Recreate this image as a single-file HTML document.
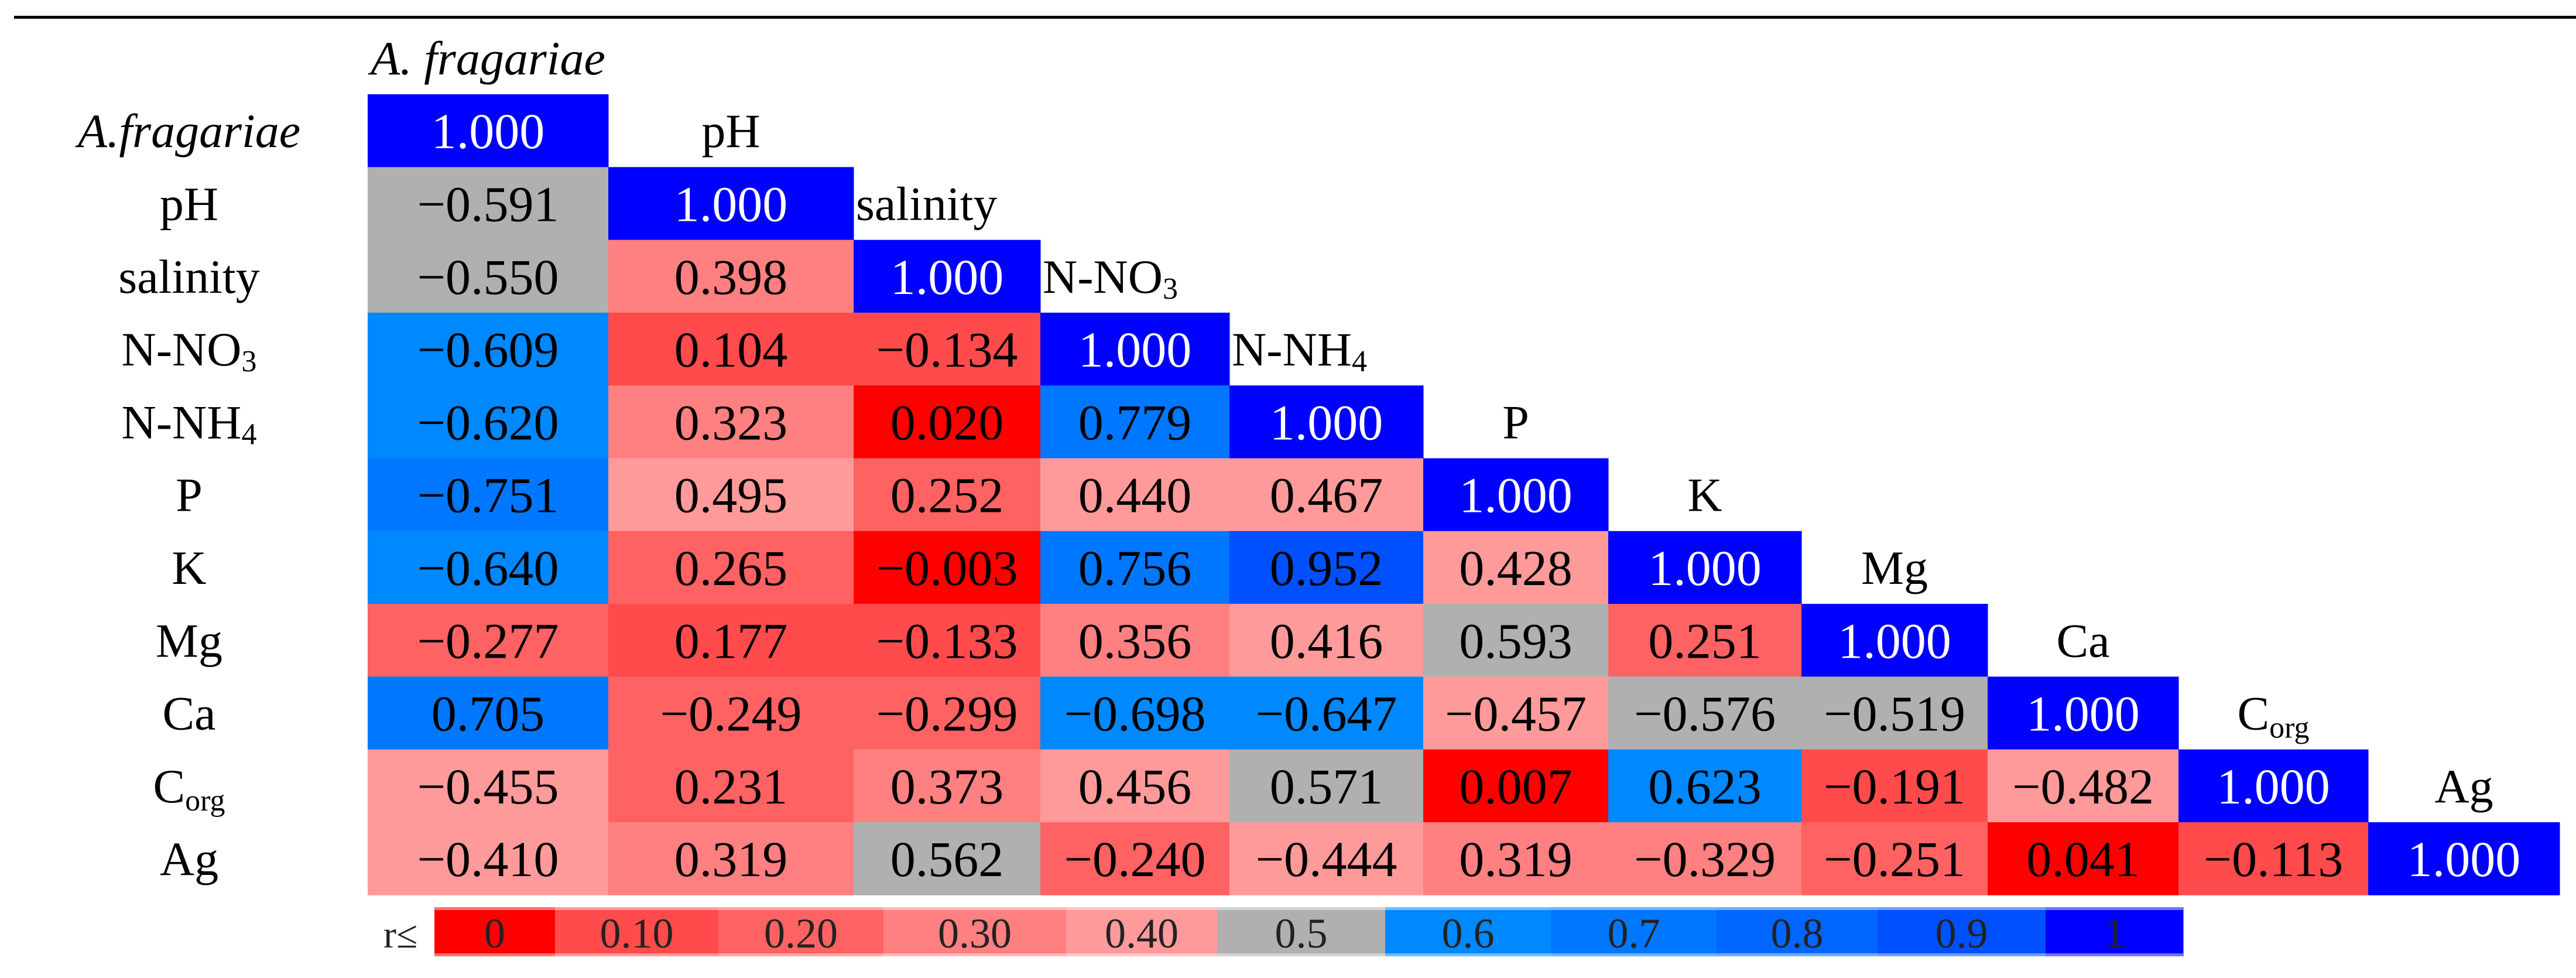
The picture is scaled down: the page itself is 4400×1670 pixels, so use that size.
<!DOCTYPE html>
<html><head><meta charset="utf-8">
<style>
html,body{margin:0;padding:0;background:#fff;}
#wrap{position:relative;width:4400px;height:1670px;overflow:hidden;background:#fff;font-family:"Liberation Serif",serif;}
svg text{font-family:"Liberation Serif",serif;}
</style></head>
<body>
<div id="wrap">
<svg id="chart" width="4400" height="1670" viewBox="0 0 4400 1670"></svg>
</div>
<script>
const labels = ["A.fragariae","pH","salinity","N-NO3","N-NH4","P","K","Mg","Ca","Corg","Ag"];
const row0 = [1.000];
const row1 = [-0.591,1.000];
const row2 = [-0.550,0.398,1.000];
const row3 = [-0.609,0.104,-0.134,1.000];
const row4 = [-0.620,0.323,0.020,0.779,1.000];
const row5 = [-0.751,0.495,0.252,0.440,0.467,1.000];
const row6 = [-0.640,0.265,-0.003,0.756,0.952,0.428,1.000];
const row7 = [-0.277,0.177,-0.133,0.356,0.416,0.593,0.251,1.000];
const row8 = [0.705,-0.249,-0.299,-0.698,-0.647,-0.457,-0.576,-0.519,1.000];
const row9 = [-0.455,0.231,0.373,0.456,0.571,0.007,0.623,-0.191,-0.482,1.000];
const row10 = [-0.410,0.319,0.562,-0.240,-0.444,0.319,-0.329,-0.251,0.041,-0.113,1.000];
const rows = [row0,row1,row2,row3,row4,row5,row6,row7,row8,row9,row10];
const legendLabels = ["0","0.10","0.20","0.30","0.40","0.5","0.6","0.7","0.8","0.9","1"];
const binColors = ["#ff0000","#ff4b4b","#ff6262","#ff8080","#ff9a9a","#b0b0b0","#0088ff","#0077ff","#0066ff","#0050ff","#0000ff"];

const NS="http://www.w3.org/2000/svg";
const svg=document.getElementById('chart');
function mk(tag,attrs,parent){const e=document.createElementNS(NS,tag);for(const k in attrs)e.setAttribute(k,attrs[k]);(parent||svg).appendChild(e);return e;}

// layout
const colEdges=[628,1039,1458,1777,2100,2431,2747,3077,3395,3721,4045,4372];
const rowTop=161, rowH=124.3;
const xL=i=>colEdges[i], xR=i=>colEdges[i+1];
const yT=r=>rowTop+r*rowH;
function colorFor(v){const a=Math.abs(v);if(a>=0.9995)return binColors[10];return binColors[Math.min(9,Math.floor(a*10))];}
function fmt(v){const s=Math.abs(v).toFixed(3);return (v<0?"\u2212":"")+s;}

// top rule
const rule=mk('rect',{x:24,y:27,width:4376,height:5,fill:'#000'});



function labelText(parent,x,y,name,anchor,italic){
  const t=mk('text',{x:x,y:y,'font-size':82,'text-anchor':anchor,fill:'#000'},parent);
  if(italic)t.setAttribute('font-style','italic');
  if(name==="N-NO3"){t.textContent="N-NO";const s=mk('tspan',{'font-size':52,dy:10},t);s.textContent="3";}
  else if(name==="N-NH4"){t.textContent="N-NH";const s=mk('tspan',{'font-size':52,dy:10},t);s.textContent="4";}
  else if(name==="Corg"){t.textContent="C";const s=mk('tspan',{'font-size':52,dy:14},t);s.textContent="org";}
  else t.textContent=name;
  return t;
}

// cells
const cellsG=mk('g',{});


rows.forEach((vals,r)=>{
  vals.forEach((v,c)=>{
    const rect=mk('rect',{x:xL(c),y:yT(r),width:xR(c)-xL(c)+0.5,height:rowH+0.5,fill:colorFor(v)},cellsG);
    
    
    const t=mk('text',{x:(xL(c)+xR(c))/2,y:yT(r)+rowH/2+30,'font-size':86,'text-anchor':'middle',fill:(r===c?'#fff':'#000')},cellsG);
    
    
    t.textContent=fmt(v);
  });
});

// row labels
labels.forEach((n,r)=>{
  const t=labelText(svg,323,yT(r)+rowH/2+28,n,'middle',r===0);
  
  
});
// column headers
labels.forEach((n,c)=>{
  const leftAligned=(c===2||c===3||c===4);
  const x=leftAligned?xL(c)+4:(xL(c)+xR(c))/2;
  const name=c===0?"A. fragariae":n;
  const t=labelText(svg,x,yT(c-1)+rowH/2+28,name,leftAligned?'start':'middle',c===0);
  
  
});

// legend
const legEdges=[742,948,1227,1509,1821,2079,2366,2649,2932,3207,3494,3729];
const lg=mk('g',{});


const rl=mk('text',{x:655,y:1618,'font-size':66,fill:'#222'},lg);


rl.textContent="r\u2264";
legendLabels.forEach((lab,i)=>{
  const r=mk('rect',{x:legEdges[i],y:1549,width:legEdges[i+1]-legEdges[i]+0.5,height:84,fill:binColors[i]},lg);
  
  
  const t=mk('text',{x:(legEdges[i]+legEdges[i+1])/2,y:1618,'font-size':72,'text-anchor':'middle',fill:'#222'},lg);
  
  
  t.textContent=lab;
});
// legend faded borders
const b1=mk('rect',{x:742,y:1549,width:2987,height:5,fill:'rgba(255,255,255,0.45)'},lg);


const b2=mk('rect',{x:742,y:1628,width:2987,height:5,fill:'rgba(255,255,255,0.45)'},lg);


</script>
</body></html>
